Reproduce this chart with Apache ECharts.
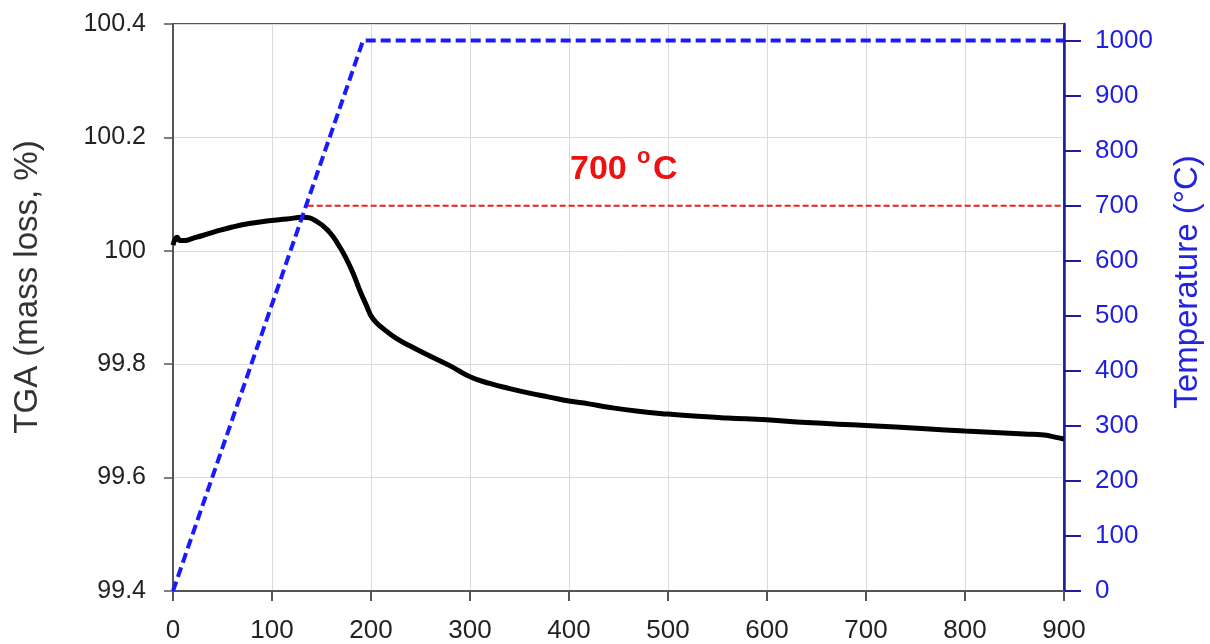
<!DOCTYPE html>
<html>
<head>
<meta charset="utf-8">
<title>TGA</title>
<script src="https://cdn.jsdelivr.net/npm/echarts@6/dist/echarts.min.js"></script>
<style>
  html, body { margin: 0; padding: 0; background: #fff; }
  #main { width: 1210px; height: 644px; }
</style>
</head>
<body>
<div id="main"></div>
<script>
// time (min) and TGA mass (%)
var tgaTime = [0, 2, 4, 7, 12, 20, 30, 45, 60, 77, 97, 115, 131, 145, 158, 168, 175, 182, 188, 195,
  202, 213, 226, 242, 259, 280, 300, 320, 340, 360, 380, 400, 420, 440, 470, 500, 530, 560, 600,
  640, 700, 760, 800, 860, 880, 892, 900];
var tgaMass = [100.010, 100.020, 100.024, 100.018, 100.018, 100.022, 100.027, 100.035, 100.042, 100.048,
  100.053, 100.056, 100.059, 100.052, 100.033, 100.008, 99.986, 99.960, 99.933, 99.905,
  99.880, 99.862, 99.845, 99.830, 99.815, 99.797, 99.778, 99.766, 99.757, 99.749, 99.742, 99.735,
  99.730, 99.724, 99.717, 99.712, 99.708, 99.705, 99.702, 99.697, 99.692, 99.686, 99.682, 99.677,
  99.675, 99.671, 99.668];

// furnace temperature program
var tempTime = [0, 192, 900];
var tempValue = [0, 1000, 1000];

// 700 oC marker line
var holdTime = [136, 900];
var holdTemp = [700, 700];

var tempTicks = [0, 100, 200, 300, 400, 500, 600, 700, 800, 900, 1000];

function zip(a, b) {
  return a.map(function (v, i) { return [v, b[i]]; });
}

var myChart = echarts.init(document.getElementById('main'));

var redFont = 'bold 34px "Liberation Sans"';

var option = {
  animation: false,
  backgroundColor: '#fff',
  grid: {
    left: 173, right: 146, top: 24, bottom: 52,
    show: true, borderColor: '#555', borderWidth: 2
  },
  xAxis: {
    type: 'value', min: 0, max: 900, interval: 100,
    axisLine: { lineStyle: { color: '#555', width: 2 } },
    axisTick: { length: 10, lineStyle: { color: '#555', width: 2 } },
    axisLabel: { color: '#222', fontSize: 26, margin: 27, fontFamily: 'Liberation Sans' },
    splitLine: { show: true, lineStyle: { color: '#dadada', width: 1 } }
  },
  yAxis: [{
    type: 'value', min: 99.4, max: 100.4, interval: 0.2,
    axisLine: { show: true, lineStyle: { color: '#555', width: 2 } },
    axisTick: { show: true, length: 9, lineStyle: { color: '#555', width: 1.5 } },
    axisLabel: {
      color: '#222', fontSize: 25, margin: 27, fontFamily: 'Liberation Sans',
      formatter: function (v) { return String(+v.toFixed(1)); }
    },
    splitLine: { show: true, lineStyle: { color: '#dadada', width: 1 } }
  }, {
    type: 'value', position: 'right', min: 0, max: 1030,
    axisLine: { show: true, lineStyle: { color: '#1c1c9c', width: 2.5 } },
    axisTick: { show: true, length: 17, customValues: tempTicks, lineStyle: { color: '#1c1c9c', width: 2 } },
    axisLabel: {
      customValues: tempTicks, color: '#1f1fe0', fontSize: 26, margin: 31, fontFamily: 'Liberation Sans',
      formatter: function (v) { return String(v); }
    },
    splitLine: { show: false }
  }],
  graphic: [{
    type: 'text', x: 28, y: 287, rotation: Math.PI / 2,
    style: {
      text: 'TGA (mass loss, %)', fill: '#333', font: '33px "Liberation Sans"',
      align: 'center', verticalAlign: 'middle'
    }
  }, {
    type: 'text', x: 1188, y: 282, rotation: Math.PI / 2,
    style: {
      text: 'Temperature (°C)', fill: '#2323e0', font: '33px "Liberation Sans"',
      align: 'center', verticalAlign: 'middle'
    }
  }, {
    type: 'text', x: 570, y: 170, z: 100,
    style: { text: '700', fill: '#ee1111', font: redFont, verticalAlign: 'middle' }
  }, {
    type: 'text', x: 637, y: 157, z: 100,
    style: { text: 'o', fill: '#ee1111', font: 'bold 22px "Liberation Sans"', verticalAlign: 'middle' }
  }, {
    type: 'text', x: 653, y: 170, z: 100,
    style: { text: 'C', fill: '#ee1111', font: redFont, verticalAlign: 'middle' }
  }],
  series: [{
    name: 'Hold', type: 'line', yAxisIndex: 1, data: zip(holdTime, holdTemp),
    symbol: 'none', z: 2,
    lineStyle: { color: '#ee1c1c', width: 2, type: [6, 3] }
  }, {
    name: 'TGA', type: 'line', yAxisIndex: 0, data: zip(tgaTime, tgaMass),
    symbol: 'none', smooth: true, z: 3,
    lineStyle: { color: '#000', width: 5 }
  }, {
    name: 'Temperature', type: 'line', yAxisIndex: 1, data: zip(tempTime, tempValue),
    symbol: 'none', z: 4,
    lineStyle: { color: '#1a1aff', width: 4, type: [10, 5] }
  }]
};

myChart.setOption(option);
</script>
</body>
</html>
